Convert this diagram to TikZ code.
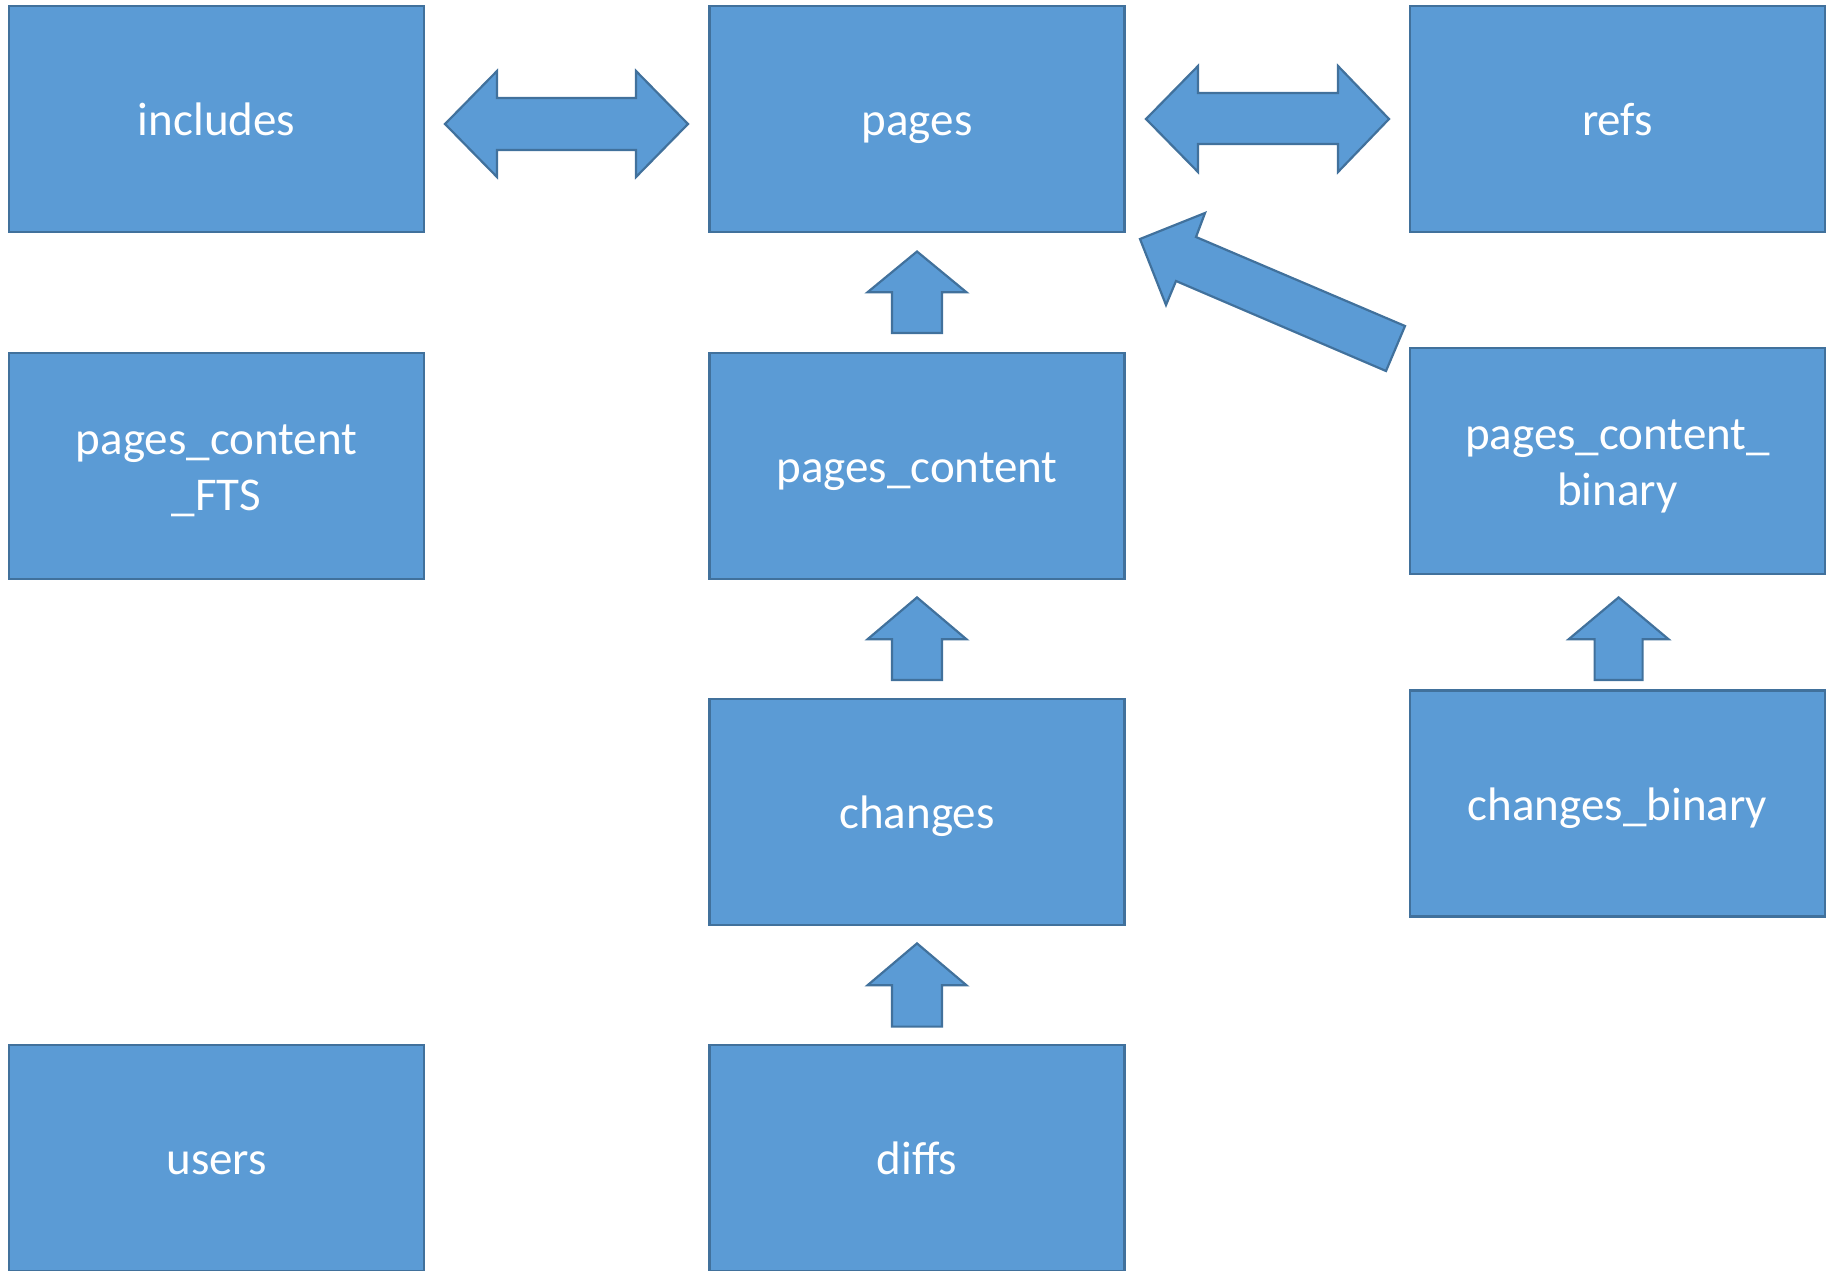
\documentclass[tikz,border=0pt]{standalone}
\usepackage{fontspec}
\setmainfont{Carlito}
\definecolor{boxfill}{HTML}{5B9BD5}
\definecolor{boxline}{HTML}{41719C}
\tikzset{
  tbl/.style={draw=boxline, fill=boxfill, line width=2.2pt, minimum width=415pt, minimum height=226pt,
    inner sep=0pt, text=white, align=center, text height=33pt, text depth=0pt,
    font=\fontsize{47}{56}\selectfont},
  twoline/.style={text height=89pt, text depth=0pt},
  blk/.style={draw=boxline, fill=boxfill, line width=2.2pt, line join=miter}
}
\begin{document}
\begin{tikzpicture}[x=1pt,y=-1pt]
\useasboundingbox (0,0) rectangle (1826,1270);
% tables
\node[tbl] (includes) at (216.6,118.7) {includes};
\node[tbl] (pages) at (917,118.7) {pages};
\node[tbl] (refs) at (1617.5,118.7) {refs};
\node[tbl,twoline] (fts) at (216.6,465.8) {pages\_content\\\_FTS};
\node[tbl] (pc) at (917,465.8) {pages\_content};
\node[tbl,twoline] (pcb) at (1617.5,461) {pages\_content\_\\binary};
\node[tbl] (changes) at (917,812) {changes};
\node[tbl] (cb) at (1617.5,803.5) {changes\_binary};
\node[tbl] (users) at (216.6,1157.6) {users};
\node[tbl] (diffs) at (917,1157.6) {diffs};
% double arrows
\draw[blk] (445,124) -- (497,71) -- (497,98) -- (636,98) -- (636,71) -- (688,124)
  -- (636,177) -- (636,150) -- (497,150) -- (497,177) -- cycle;
\draw[blk] (1146,119) -- (1198,66) -- (1198,93) -- (1338,93) -- (1338,66) -- (1389,119)
  -- (1338,172) -- (1338,144) -- (1198,144) -- (1198,172) -- cycle;
% up arrows
\draw[blk] (917,251.5) -- (966.5,292.3) -- (942,292.3) -- (942,333) -- (892,333) -- (892,292.3) -- (867.5,292.3) -- cycle;
\draw[blk] (917,597.4) -- (966.5,639.3) -- (942,639.3) -- (942,680) -- (892,680) -- (892,639.3) -- (867.5,639.3) -- cycle;
\draw[blk] (917,943.4) -- (966.5,985.3) -- (942,985.3) -- (942,1026.6) -- (892,1026.6) -- (892,985.3) -- (867.5,985.3) -- cycle;
\draw[blk] (1618.6,597.4) -- (1668.6,639.3) -- (1642.6,639.3) -- (1642.6,680) -- (1594.6,680) -- (1594.6,639.3) -- (1568.6,639.3) -- cycle;
% diagonal arrow
\draw[blk] (1140,239) -- (1205,213) -- (1196,237) -- (1405,326) -- (1386,371) -- (1176,281) -- (1166,305) -- cycle;
\end{tikzpicture}
\end{document}
